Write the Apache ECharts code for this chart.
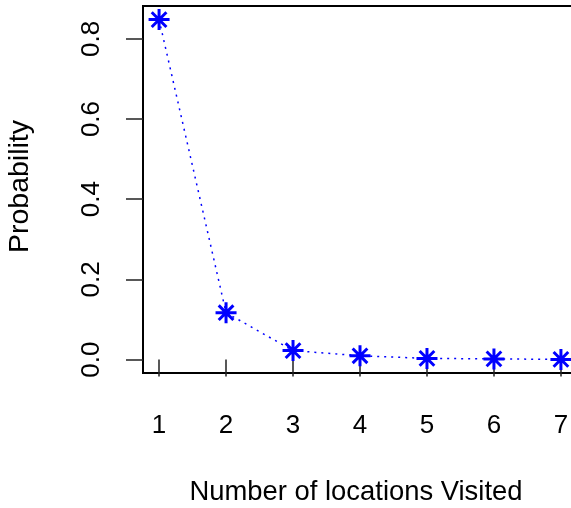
<!DOCTYPE html>
<html>
<head>
<meta charset="utf-8">
<script src="https://cdn.jsdelivr.net/npm/echarts@6/dist/echarts.min.js"></script>
<style>
  html, body { margin: 0; padding: 0; background: #fff; }
  #chart { width: 571px; height: 508px; }
</style>
</head>
<body>
<div id="chart"></div>
<script>
// Number of locations visited and the probability of each count
const locations = [1, 2, 3, 4, 5, 6, 7];
const probability = [0.848, 0.117, 0.0225, 0.0095, 0.003, 0.0018, 0.0005];
const xTicks = [1, 2, 3, 4, 5, 6, 7];
const yTicks = [0, 0.2, 0.4, 0.6, 0.8];
const yTickLabels = ['0.0', '0.2', '0.4', '0.6', '0.8'];

// Axis extents padded by 4% of the data range on each side
const xPad = (Math.max(...locations) - Math.min(...locations)) * 0.04;
const yPad = (Math.max(...probability) - Math.min(...probability)) * 0.04;

const FONT = '"Liberation Sans", Arial, Helvetica, sans-serif';
const FS = 26;

// Eight-armed asterisk drawn as stroked line segments
const asterisk = 'path://M0 10 L20 10 M10 0 L10 20 M3 3 L17 17 M17 3 L3 17';

const chart = echarts.init(document.getElementById('chart'), null, { renderer: 'canvas' });
chart.setOption({
  animation: false,
  backgroundColor: '#ffffff',
  grid: {
    left: 143, top: 6, width: 434, height: 367,
    show: true, borderColor: '#000', borderWidth: 2,
    backgroundColor: 'transparent',
    containLabel: false, outerBoundsMode: 'none'
  },
  xAxis: {
    type: 'value',
    min: Math.min(...locations) - xPad,
    max: Math.max(...locations) + xPad,
    name: 'Number of locations Visited',
    nameLocation: 'middle',
    nameGap: 106,
    nameTextStyle: { fontFamily: FONT, fontSize: 27.4, color: '#000', padding: [0, 8, 0, 0] },
    axisLine: { show: false },
    splitLine: { show: false },
    axisTick: {
      show: true, inside: false, length: 17,
      customValues: xTicks,
      lineStyle: { color: '#222', width: 1.5 }
    },
    axisLabel: {
      show: true, margin: 40,
      customValues: xTicks,
      fontFamily: FONT, fontSize: FS, color: '#000',
      formatter: v => String(v)
    }
  },
  yAxis: {
    type: 'value',
    min: Math.min(...probability) - yPad,
    max: Math.max(...probability) + yPad,
    name: 'Probability',
    nameLocation: 'middle',
    nameRotate: 90,
    nameGap: 108,
    nameTextStyle: { fontFamily: FONT, fontSize: 28.5, color: '#000', padding: [0, 0, 0, 6] },
    axisLine: { show: false },
    splitLine: { show: false },
    axisTick: {
      show: true, inside: false, length: 17,
      customValues: yTicks,
      lineStyle: { color: '#222', width: 1.5 }
    },
    axisLabel: {
      show: true, margin: 38, rotate: 90,
      customValues: yTicks,
      fontFamily: FONT, fontSize: FS, color: '#000',
      formatter: v => {
        const i = yTicks.findIndex(t => Math.abs(t - v) < 1e-9);
        return i >= 0 ? yTickLabels[i] : '';
      }
    }
  },
  series: [{
    type: 'line',
    data: locations.map((x, i) => [x, probability[i]]),
    symbol: asterisk,
    symbolSize: 21,
    showSymbol: true,
    lineStyle: { color: '#0000ff', width: 1.5, type: [2, 5] },
    itemStyle: { color: 'none', borderColor: '#0000ff', borderWidth: 3 },
    emphasis: { disabled: true },
    z: 5
  }]
});
</script>
</body>
</html>
